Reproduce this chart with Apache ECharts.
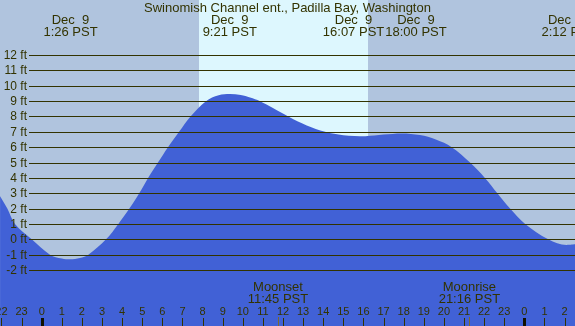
<!DOCTYPE html>
<html><head><meta charset="utf-8">
<script src="https://cdn.jsdelivr.net/npm/echarts@6/dist/echarts.min.js"></script>
<style>html,body{margin:0;padding:0;background:#B0C4DE;overflow:hidden}#c{width:575px;height:326px}</style>
</head><body><div id="c"></div>
<script>
const chartTitle = "Swinomish Channel ent., Padilla Bay, Washington";
const tideHours = [-2.07,-1.71,-1.33,-0.50,0.41,1.00,1.41,1.90,2.32,3.20,3.81,4.36,4.85,5.29,5.78,6.28,6.83,7.40,8.17,8.80,9.36,9.90,10.36,10.86,11.50,12.26,13.18,14.09,15.00,16.10,17.00,17.90,18.81,19.60,20.39,21.30,22.04,22.66,23.29,24.04,25.19,26.10,26.52];
const tideFeet  = [2.8,2.0,1.0,0.0,-1.0,-1.25,-1.30,-1.22,-1.0,0.0,1.0,2.0,3.0,4.0,5.0,6.0,7.0,8.0,9.0,9.38,9.46,9.40,9.24,9.0,8.55,8.0,7.42,7.0,6.78,6.72,6.82,6.9,6.79,6.5,6.0,5.0,4.0,3.0,2.0,1.0,0.0,-0.37,-0.33];
const eventHours = [1.433, 9.35, 16.117, 18.0, 26.2];
const eventDates = ["Dec  9","Dec  9","Dec  9","Dec  9","Dec 10"];
const eventTimes = ["1:26 PST","9:21 PST","16:07 PST","18:00 PST","2:12 PST"];
const sunriseHour = 7.82;
const sunsetHour = 16.23;
const moonHours = [11.75, 21.267];
const moonNames = ["Moonset","Moonrise"];
const moonTimes = ["11:45 PST","21:16 PST"];
const feetTicks = [-2,-1,0,1,2,3,4,5,6,7,8,9,10,11,12];
const hourTicks = [-2,-1,0,1,2,3,4,5,6,7,8,9,10,11,12,13,14,15,16,17,18,19,20,21,22,23,24,25,26];

const NIGHT = '#B0C4DE', DAY = '#DDF7FE', FILL = '#4161D6', INK = '#333300';
const FONT = 'Liberation Sans, Arial, sans-serif';

const chart = echarts.init(document.getElementById('c'), null, {renderer:'canvas'});
const xMin = -2.074, xMax = 26.52, yMin = -5.65, yMax = 15.59;

chart.setOption({
  backgroundColor: NIGHT,
  animation: false,
  grid: {left:0, right:0, top:0, bottom:0},
  xAxis: {type:'value', min:xMin, max:xMax, show:false},
  yAxis: {type:'value', min:yMin, max:yMax, show:false},
  series: [
    { type:'custom', z:1, silent:true, data:[[sunriseHour, sunsetHour]],
      renderItem(params, api){
        const a = api.coord([api.value(0), 0]), b = api.coord([api.value(1), 0]);
        const cs = params.coordSys;
        return {type:'rect', shape:{x:Math.round(a[0]), y:cs.y, width:Math.round(b[0])-Math.round(a[0]), height:cs.height}, style:{fill:DAY}};
      }
    },
    { type:'line', z:2, silent:true, symbol:'none', smooth:0.35,
      data: tideHours.map((h,i)=>[h, tideFeet[i]]),
      lineStyle:{width:0}, areaStyle:{color:FILL, opacity:1, origin:'start'}
    },
    { type:'custom', z:3, silent:true, data: feetTicks.map(v=>[v]),
      renderItem(params, api){
        const v = api.value(0);
        const y = Math.round(api.coord([0, v])[1]) + 0.5;
        const cs = params.coordSys;
        return {type:'group', children:[
          {type:'line', shape:{x1:29, y1:y, x2:cs.x+cs.width, y2:y}, style:{stroke:INK, lineWidth:1}},
          {type:'text', x:27, y:y, style:{text: v + ' ft', align:'right', verticalAlign:'middle', fill:INK, font:'12px '+FONT}}
        ]};
      }
    },
    { type:'custom', z:4, silent:true, data: hourTicks.map(h=>[h]),
      renderItem(params, api){
        const h = api.value(0);
        const x = api.coord([h, 0])[0];
        const cs = params.coordSys;
        const bottom = cs.y + cs.height;
        const lab = ((h % 24) + 24) % 24;
        const midnight = lab === 0;
        const xr = Math.round(x) + 0.5;
        return {type:'group', children:[
          {type:'line', shape:{x1:xr, y1:bottom-8, x2:xr, y2:bottom}, style:{stroke: midnight ? '#111100' : INK, lineWidth: midnight ? 3 : 1}},
          {type:'text', x:x, y:311.5, style:{text:String(lab), align:'center', verticalAlign:'middle', fill:INK, font:'11px '+FONT}}
        ]};
      }
    },
    { type:'custom', z:4, silent:true, data: moonHours.map((h,i)=>[h,i]),
      renderItem(params, api){
        const h = api.value(0), i = api.value(1);
        const x = api.coord([h, 0])[0];
        const cs = params.coordSys;
        const bottom = cs.y + cs.height;
        const xr = Math.round(x) + 0.5;
        return {type:'group', children:[
          {type:'line', shape:{x1:xr, y1:bottom-9, x2:xr, y2:bottom}, style:{stroke:'#7a6a30', lineWidth:1}},
          {type:'text', x:x, y:287, style:{text:moonNames[i], align:'center', verticalAlign:'middle', fill:INK, font:'13px '+FONT}},
          {type:'text', x:x, y:299, style:{text:moonTimes[i], align:'center', verticalAlign:'middle', fill:INK, font:'13px '+FONT}}
        ]};
      }
    }
  ]
});

// header labels with overlap avoidance
const ctx = document.createElement('canvas').getContext('2d');
ctx.font = '13px ' + FONT;
const items = eventHours.map((h,i)=>{
  const w = Math.max(ctx.measureText(eventTimes[i]).width, ctx.measureText(eventDates[i]).width);
  return {x: chart.convertToPixel({xAxisIndex:0}, h), w: w, i: i};
});
for (let k=1;k<items.length;k++){
  const a = items[k-1], b = items[k];
  const need = (a.w + b.w)/2 + 1;
  const d = b.x - a.x;
  if (d < need){ const s = (need - d)/2; a.x -= s; b.x += s; }
}
const graphics = [{type:'text', x:287.5, y:8, z:10, style:{text:chartTitle, align:'center', verticalAlign:'middle', fill:INK, font:'13px '+FONT}}];
items.forEach(it=>{
  graphics.push({type:'text', x:it.x, y:20, z:10, style:{text:eventDates[it.i], align:'center', verticalAlign:'middle', fill:INK, font:'13px '+FONT}});
  graphics.push({type:'text', x:it.x, y:32, z:10, style:{text:eventTimes[it.i], align:'center', verticalAlign:'middle', fill:INK, font:'13px '+FONT}});
});
chart.setOption({graphic: graphics});
</script></body></html>
